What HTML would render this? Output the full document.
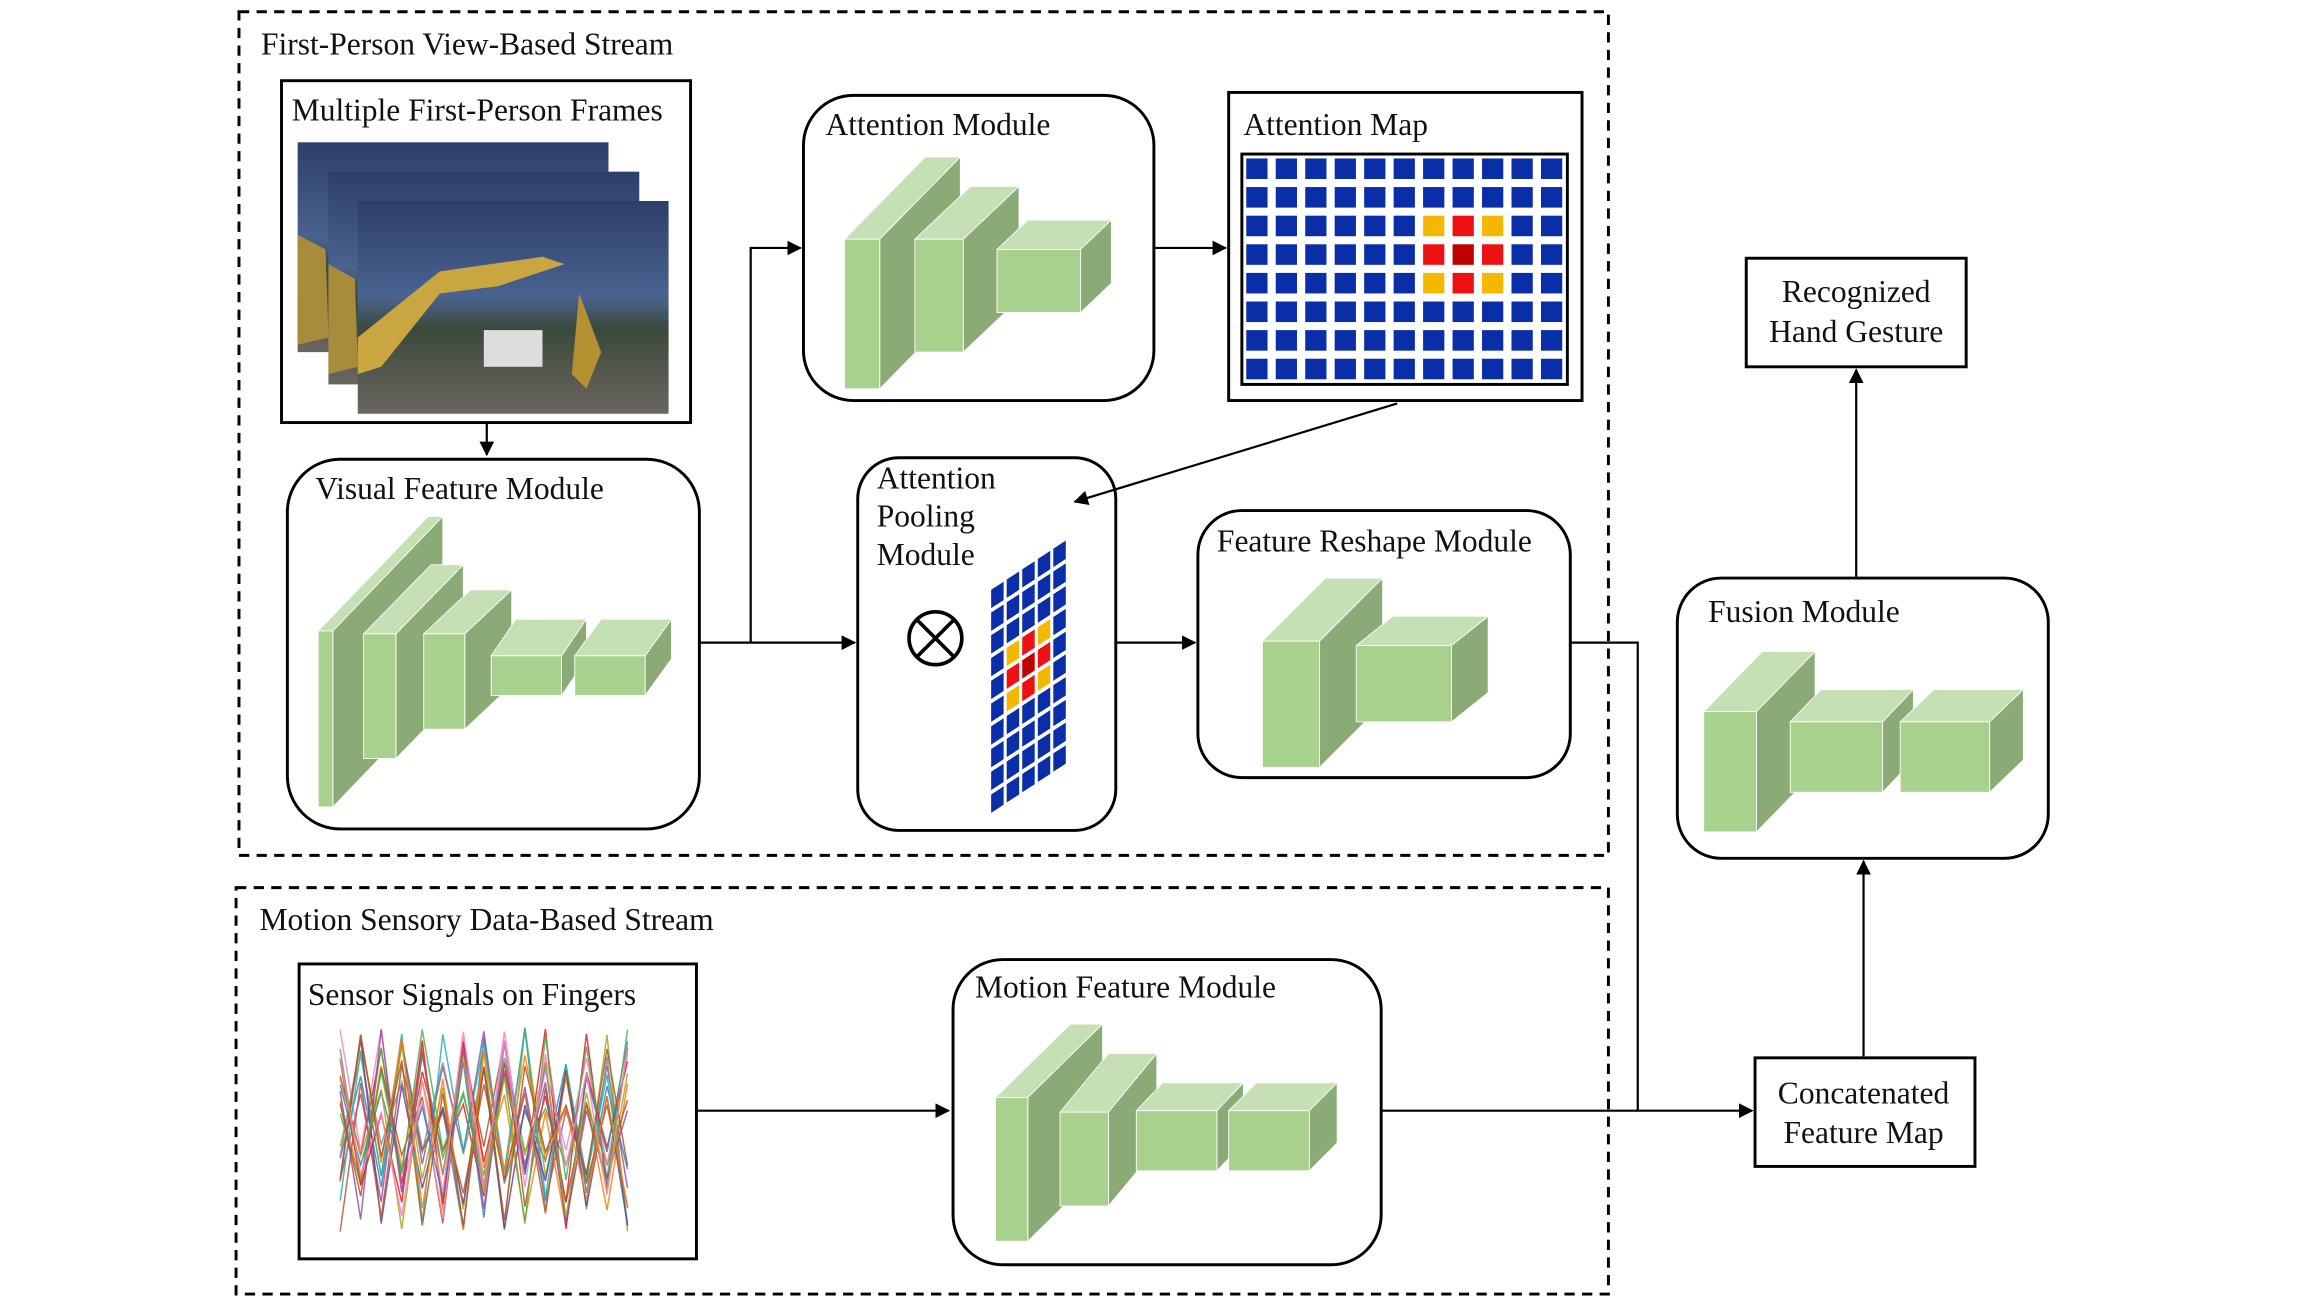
<!DOCTYPE html>
<html><head><meta charset="utf-8">
<style>html,body{margin:0;padding:0;background:#fff;}svg{display:block;}
text{font-family:"Liberation Serif",serif;font-size:21.5px;fill:#111;}</style></head>
<body>
<svg id="s" width="2299" height="1297" viewBox="0 0 1568 884" preserveAspectRatio="none" xmlns="http://www.w3.org/2000/svg">
<defs>
<marker id="a" markerWidth="10" markerHeight="10" refX="9" refY="5" orient="auto" markerUnits="userSpaceOnUse"><path d="M0,0 L10,5 L0,10 z" fill="#000"/></marker>
<linearGradient id="ph" x1="0" y1="0" x2="0" y2="1"><stop offset="0" stop-color="#2c3f6a"/><stop offset="0.45" stop-color="#4a6390"/><stop offset="0.6" stop-color="#3b4a3a"/><stop offset="1" stop-color="#6a6560"/></linearGradient>
</defs>
<rect width="1568" height="884" fill="#fff"/>
<g fill="none" stroke="#000" stroke-width="2" stroke-dasharray="7,5">
<rect x="163" y="8" width="934" height="575"/>
<rect x="161" y="605" width="936" height="277"/>
</g>
<text x="178" y="37">First-Person View-Based Stream</text>
<text x="177" y="634">Motion Sensory Data-Based Stream</text>
<g fill="none" stroke="#000" stroke-width="2">
<rect x="192" y="55" width="279" height="233"/>
<rect x="196" y="313" width="281" height="252" rx="36"/>
<rect x="548" y="65" width="239" height="208" rx="34"/>
<rect x="838" y="63" width="241" height="210"/>
<rect x="847" y="105" width="222" height="157"/>
<rect x="585" y="312" width="176" height="254" rx="28"/>
<rect x="817" y="348" width="254" height="182" rx="30"/>
<rect x="1191" y="176" width="150" height="74"/>
<rect x="1144" y="394" width="253" height="191" rx="30"/>
<rect x="1197" y="721" width="150" height="74"/>
<rect x="204" y="657" width="271" height="201"/>
<rect x="650" y="654" width="292" height="208" rx="34"/>
</g>
<g>
<rect x="203" y="97" width="212" height="143" fill="url(#ph)"/>
<rect x="224" y="117" width="212" height="145" fill="url(#ph)"/>
<rect x="244" y="137" width="212" height="145" fill="url(#ph)"/>
<path d="M244,230 L300,185 L370,175 L385,180 L340,195 L300,200 L260,250 L244,255z" fill="#c9a640"/>
<path d="M203,160 L222,170 L224,230 L203,235z M224,180 L242,190 L244,250 L224,255z" fill="#a88c3c"/>
<rect x="330" y="225" width="40" height="25" fill="#ddd"/>
<path d="M395,200 L410,240 L400,265 L390,255z" fill="#b59030"/>
</g>
<text x="199" y="82">Multiple First-Person Frames</text>
<text x="215" y="340">Visual Feature Module</text>
<text x="563" y="92">Attention Module</text>
<text x="848" y="92">Attention Map</text>
<text x="598" y="333">Attention</text>
<text x="598" y="359">Pooling</text>
<text x="598" y="385">Module</text>
<text x="830" y="376">Feature Reshape Module</text>
<text x="1266" y="206" text-anchor="middle">Recognized</text>
<text x="1266" y="233" text-anchor="middle">Hand Gesture</text>
<text x="1165" y="424">Fusion Module</text>
<text x="1271" y="752" text-anchor="middle">Concatenated</text>
<text x="1271" y="779" text-anchor="middle">Feature Map</text>
<text x="210" y="685">Sensor Signals on Fingers</text>
<text x="665" y="680">Motion Feature Module</text>
<circle cx="638" cy="435" r="18" fill="none" stroke="#000" stroke-width="2.5"/>
<path d="M625,422 L651,448 M651,422 L625,448" stroke="#000" stroke-width="2.5"/>
<g fill="none" stroke="#000" stroke-width="1.5">
<path d="M332,288 L332,310" marker-end="url(#a)"/>
<path d="M477,438 L583,438" marker-end="url(#a)"/>
<path d="M512,438 L512,169 L546,169" marker-end="url(#a)"/>
<path d="M787,169 L836,169" marker-end="url(#a)"/>
<path d="M953,275 L733,342" marker-end="url(#a)"/>
<path d="M761,438 L815,438" marker-end="url(#a)"/>
<path d="M1071,438 L1117,438 L1117,757 L1195,757" marker-end="url(#a)"/>
<path d="M475,757 L647,757" marker-end="url(#a)"/>
<path d="M942,757 L1117,757"/>
<path d="M1266,393 L1266,252" marker-end="url(#a)"/>
<path d="M1271,720 L1271,587" marker-end="url(#a)"/>
</g>
<g id="gen"></g>
</svg>
<script>
var g=document.getElementById('gen'),NS='http://www.w3.org/2000/svg';
function el(t,a){var e=document.createElementNS(NS,t);for(var k in a)e.setAttribute(k,a[k]);g.appendChild(e);return e;}
function box(x1,y1,x2,y2,dx,dy){
 el('polygon',{points:x1+','+y1+' '+x2+','+y1+' '+(x2+dx)+','+(y1+dy)+' '+(x1+dx)+','+(y1+dy),fill:'#c5e0b4',stroke:'#fff','stroke-width':0.6});
 el('polygon',{points:x2+','+y1+' '+(x2+dx)+','+(y1+dy)+' '+(x2+dx)+','+(y2+dy)+' '+x2+','+y2,fill:'#8bab76',stroke:'#fff','stroke-width':0.6});
 el('rect',{x:x1,y:y1,width:x2-x1,height:y2-y1,fill:'#a9d18e',stroke:'#fff','stroke-width':0.6});
}
[[217,430,227,550,75,-78],[248,432,270,517,46,-47],[289,432,317,497,32,-30],[335,447,383,474,17,-25],[392,447,440,474,18,-25],
 [576,163,600,265,55,-56],[624,163,657,240,38,-36],[680,170,737,213,21,-20],
 [861,437,900,523,43,-43],[925,440,990,492,25,-20],
 [1162,485,1198,567,40,-41],[1221,492,1284,540,21,-22],[1296,492,1357,540,23,-22],
 [679,748,701,846,51,-50],[723,758,756,822,33,-40],[775,757,830,798,18,-19],[838,757,893,798,19,-19]
].forEach(function(b){box.apply(null,b);});
var blue='#0a2ea8';
function hot(c,r){var k=c+','+r;
 if(k=='7,3')return '#c00000';
 if(k=='7,2'||k=='6,3'||k=='8,3'||k=='7,4')return '#ee1111';
 if(k=='6,2'||k=='8,2'||k=='6,4'||k=='8,4')return '#f5b800';return blue;}
for(var r=0;r<8;r++)for(var c=0;c<11;c++)el('rect',{x:850+c*20.1,y:108+r*19.5,width:14.5,height:14,fill:hot(c,r)});
for(var r=0;r<10;r++)for(var c=0;c<5;c++){
 var ox=675+c*10.6,oy=555-c*7-r*15.5;
 var col=blue;
 if(r>=4&&r<=6&&c>=1&&c<=3){col=(r==5&&c==2)?'#c00000':((r==5||c==2)?'#ee1111':'#f5b800');}
 var p=[[ox+1,oy-1],[ox+9.5,oy-6.5],[ox+9.5,oy-19],[ox+1,oy-13.5]];
 el('polygon',{points:p.map(function(q){return q.join(',')}).join(' '),fill:col});
}
var cols=['#e41a1c','#377eb8','#4daf4a','#984ea3','#ff7f00','#a6a61c','#a65628','#f781bf','#888','#1bb5b5','#6a3d9a','#b15928'];
var seed=7;function rnd(){seed=(seed*9301+49297)%233280;return seed/233280;}
for(var i=0;i<20;i++){var pts=[];var up=rnd()>0.5;for(var x=232;x<=441;x+=14){up=!up;var y=up?700+rnd()*60:780+rnd()*60;pts.push(x+','+y.toFixed(1));}
 el('polyline',{points:pts.join(' '),fill:'none',stroke:cols[i%cols.length],'stroke-width':1,opacity:0.85});}
</script>
</body></html>
